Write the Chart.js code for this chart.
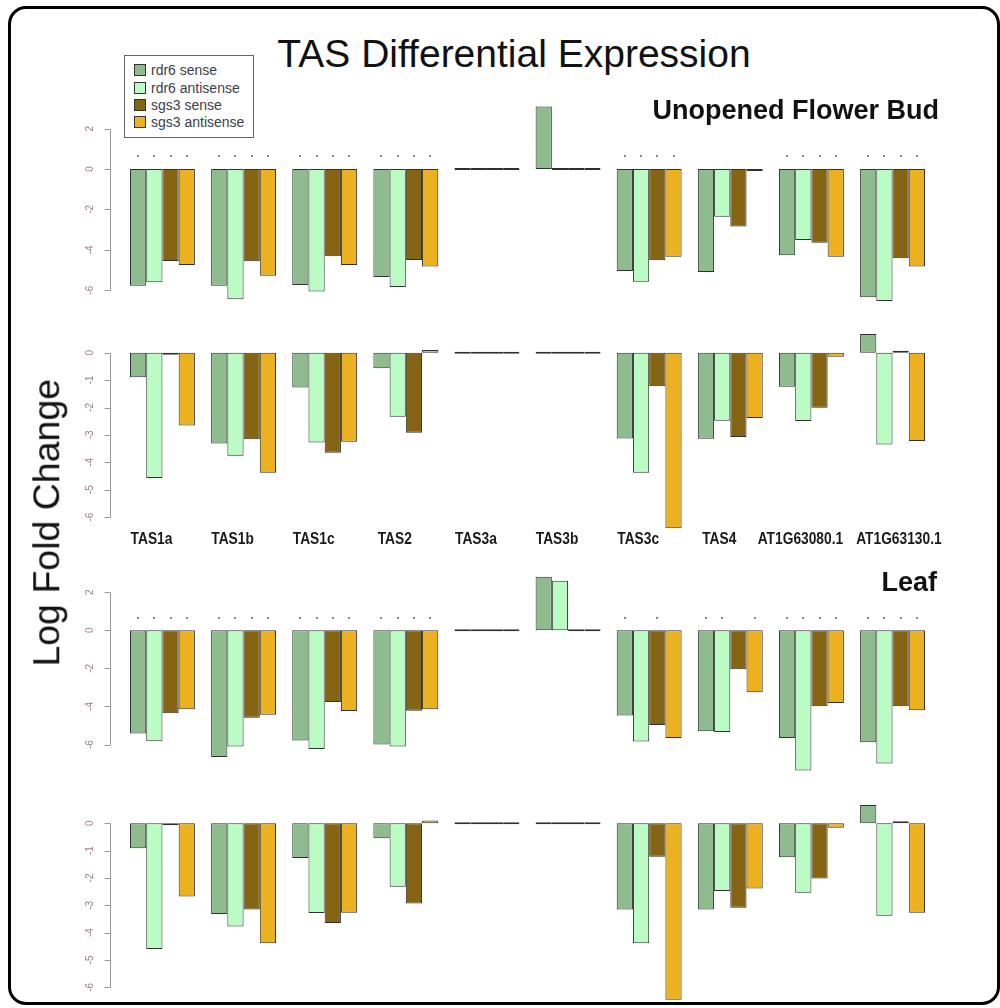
<!DOCTYPE html>
<html>
<head>
<meta charset="utf-8">
<script src="https://cdn.jsdelivr.net/npm/chart.js@4/dist/chart.umd.min.js"></script>
<style>
body { margin: 0; background: #fff; }
#page { position: relative; width: 1000px; height: 1008px; overflow: hidden; font-family: "Liberation Sans", Arial, sans-serif; }
#frame { position: absolute; left: 8px; top: 6px; width: 992px; height: 999px; border: 3px solid #000; border-radius: 18px; box-sizing: border-box; }
canvas { position: absolute; left: 0; }
.txt { position: absolute; line-height: 1; white-space: nowrap; color: #111; }
#title { font-size: 39px; left: 0; width: 1028px; text-align: center; top: 34px; }
#budLabel { font-size: 27px; font-weight: bold; right: 61px; top: 97px; }
#leafLabel { font-size: 27px; font-weight: bold; right: 63px; top: 569px; }
#ylab { font-size: 37.5px; width: 400px; text-align: center; left: -153px; top: 504px; transform: rotate(-90deg); }
#legend { position: absolute; left: 124px; top: 55px; width: 130px; height: 83px; border: 1px solid #666; box-sizing: border-box; background: #fff; }
.row { position: absolute; left: 0; height: 17px; line-height: 17px; font-size: 14px; color: #3d3d4d; }
.sw { position: absolute; left: 9px; top: 2px; width: 12px; height: 12px; border: 1px solid #333; box-sizing: border-box; }
.lt { position: absolute; left: 26px; top: 0; white-space: nowrap; }
</style>
</head>
<body>
<div id="page">
  <div id="frame"></div>
  <div id="title" class="txt">TAS Differential Expression</div>
  <div id="ylab" class="txt">Log Fold Change</div>
  <div id="legend"></div>
  <div id="budLabel" class="txt">Unopened Flower Bud</div>
  <div id="leafLabel" class="txt">Leaf</div>
</div>
<script>
// categories and series
const categories = ["TAS1a", "TAS1b", "TAS1c", "TAS2", "TAS3a", "TAS3b", "TAS3c", "TAS4", "AT1G63080.1", "AT1G63130.1"];
const seriesNames = ["rdr6 sense", "rdr6 antisense", "sgs3 sense", "sgs3 antisense"];
const seriesColors = ["#8fbc8f", "#bafcc4", "#856414", "#ebb120"];

// Unopened Flower Bud, upper panel
const budRdr6Sense = [-5.78, -5.78, -5.74, -5.35, 0, 3.09, -5.05, -5.10, -4.27, -6.35];
const budRdr6Anti = [-5.61, -6.45, -6.07, -5.84, 0, 0, -5.58, -2.36, -3.51, -6.53];
const budSgs3Sense = [-4.55, -4.57, -4.32, -4.50, 0, 0, -4.52, -2.85, -3.65, -4.42];
const budSgs3Anti = [-4.75, -5.28, -4.75, -4.83, 0, 0, -4.34, -0.08, -4.34, -4.83];
// Unopened Flower Bud, lower panel
const budLowRdr6Sense = [-0.90, -3.31, -1.27, -0.57, 0, 0, -3.13, -3.14, -1.24, 0.68];
const budLowRdr6Anti = [-4.57, -3.76, -3.28, -2.34, 0, 0, -4.38, -2.48, -2.49, -3.35];
const budLowSgs3Sense = [-0.07, -3.16, -3.65, -2.92, 0, 0, -1.22, -3.08, -2.01, 0.06];
const budLowSgs3Anti = [-2.66, -4.38, -3.25, 0.10, 0, 0, -6.41, -2.38, -0.15, -3.22];
// Leaf, upper panel
const leafRdr6Sense = [-5.42, -6.65, -5.79, -6.00, 0, 2.81, -4.48, -5.30, -5.65, -5.88];
const leafRdr6Anti = [-5.83, -6.10, -6.24, -6.10, 0, 2.60, -5.84, -5.34, -7.36, -7.00];
const leafSgs3Sense = [-4.36, -4.59, -3.77, -4.22, 0, 0, -4.97, -2.04, -3.99, -3.99];
const leafSgs3Anti = [-4.15, -4.43, -4.24, -4.15, 0, 0, -5.65, -3.26, -3.82, -4.20];
// Leaf, lower panel
const leafLowRdr6Sense = [-0.91, -3.32, -1.27, -0.55, 0, 0, -3.15, -3.15, -1.24, 0.67];
const leafLowRdr6Anti = [-4.60, -3.78, -3.28, -2.32, 0, 0, -4.39, -2.48, -2.54, -3.38];
const leafLowSgs3Sense = [-0.05, -3.15, -3.65, -2.93, 0, 0, -1.22, -3.09, -2.02, 0.04];
const leafLowSgs3Anti = [-2.68, -4.39, -3.27, 0.10, 0, 0, -6.46, -2.39, -0.16, -3.27];

// significance dots (one flag per bar in a group)
const budSig = ["1111", "1111", "1111", "1111", "0000", "0000", "1111", "0000", "1111", "1111"];
const leafSig = ["1111", "1111", "1111", "1111", "0000", "0000", "1010", "1101", "1111", "1111"];
const sigLevel = 0.65;

// y axis ticks
const ticksWide = [2, 0, -2, -4, -6];
const ticksLow = [0, -1, -2, -3, -4, -5, -6];

// legend
let legend = document.getElementById("legend");
seriesNames.forEach(function (name, i) {
    let row = document.createElement("div");
    row.className = "row";
    row.style.top = (6.2 + i * 17.3) + "px";
    row.innerHTML = '<div class="sw" style="background:' + seriesColors[i] + '"></div><div class="lt">' + name + '</div>';
    legend.appendChild(row);
});

// R style axis, dots and group names
const rAxis = {
    id: "rAxis",
    afterDatasetsDraw(chart, args, opts) {
        let ctx = chart.ctx;
        let y = chart.scales.y, x = chart.scales.x;
        let ax = Math.round(chart.chartArea.left - 12) + 0.5;
        let t = opts.ticks;
        ctx.save();
        ctx.strokeStyle = "#9a9a9a";
        ctx.lineWidth = 1;
        ctx.beginPath();
        ctx.moveTo(ax, Math.round(y.getPixelForValue(t[0])) + 0.5);
        ctx.lineTo(ax, Math.round(y.getPixelForValue(t[t.length - 1])) + 0.5);
        t.forEach(function (v) {
            let py = Math.round(y.getPixelForValue(v)) + 0.5;
            ctx.moveTo(ax, py);
            ctx.lineTo(ax - 6, py);
        });
        ctx.stroke();
        ctx.fillStyle = "#9a7f7f";
        ctx.font = '10px "Liberation Sans"';
        ctx.textAlign = "center";
        ctx.textBaseline = "middle";
        t.forEach(function (v) {
            ctx.save();
            ctx.translate(ax - 20.5, y.getPixelForValue(v));
            ctx.rotate(-Math.PI / 2);
            ctx.fillText(String(v), 0, 0);
            ctx.restore();
        });
        // dots over bars
        if (opts.sig) {
            ctx.fillStyle = "#8a8a8a";
            let py = y.getPixelForValue(sigLevel);
            opts.sig.forEach(function (flags, j) {
                for (let i = 0; i < 4; i++) {
                    if (flags[i] === "1") {
                        let bar = chart.getDatasetMeta(i).data[j];
                        ctx.fillRect(Math.round(bar.x) - 1, Math.round(py) - 1, 2, 2);
                    }
                }
            });
        }
        // group names
        if (opts.names) {
            ctx.fillStyle = "#1a1a1a";
            ctx.font = 'bold 17px "Liberation Sans"';
            ctx.textBaseline = "alphabetic";
            let baseY = y.getPixelForValue(-6) + 27;
            let prevRight = -1e9;
            categories.forEach(function (c, j) {
                let w = ctx.measureText(c).width * 0.81;
                let cx = x.getPixelForValue(j) - 11;
                if (cx - w / 2 < prevRight + 13) cx = prevRight + 13 + w / 2;
                prevRight = cx + w / 2;
                ctx.save();
                ctx.translate(cx, baseY);
                ctx.scale(0.81, 1);
                ctx.fillText(c, 0, 0);
                ctx.restore();
            });
        }
        ctx.restore();
    }
};

function makePanel(values, geo, extra) {
    let yTop = geo.zero - geo.max * geo.ppu;
    let yBot = geo.zero - geo.min * geo.ppu;
    let top = Math.floor(yTop) - 6;
    let bottom = Math.ceil(yBot) + geo.padBottom;
    let canvas = document.createElement("canvas");
    canvas.width = 1000;
    canvas.height = bottom - top;
    canvas.style.top = top + "px";
    canvas.style.width = "1000px";
    canvas.style.height = (bottom - top) + "px";
    document.getElementById("page").appendChild(canvas);
    new Chart(canvas, {
        type: "bar",
        data: {
            labels: categories,
            datasets: values.map(function (d, i) {
                return {
                    label: seriesNames[i],
                    data: d,
                    backgroundColor: seriesColors[i],
                    borderColor: "rgba(25,25,25,0.9)",
                    borderWidth: 1,
                    borderSkipped: false,
                    minBarLength: 2,
                    categoryPercentage: 0.8,
                    barPercentage: 1
                };
            })
        },
        options: {
            responsive: false,
            animation: false,
            events: [],
            layout: { padding: { left: 121.9, right: 66.9, top: yTop - top, bottom: bottom - yBot } },
            scales: {
                x: { type: "category", display: false, offset: true },
                y: { min: geo.min, max: geo.max, display: false }
            },
            plugins: {
                legend: { display: false },
                tooltip: { enabled: false },
                rAxis: extra
            }
        },
        plugins: [rAxis]
    });
}

makePanel([budRdr6Sense, budRdr6Anti, budSgs3Sense, budSgs3Anti],
    { zero: 169, ppu: 20.2, min: -7, max: 3.5, padBottom: 6 },
    { ticks: ticksWide, sig: budSig, names: false });
makePanel([budLowRdr6Sense, budLowRdr6Anti, budLowSgs3Sense, budLowSgs3Anti],
    { zero: 352.7, ppu: 27.4, min: -6.7, max: 1.0, padBottom: 22 },
    { ticks: ticksLow, sig: null, names: true });
makePanel([leafRdr6Sense, leafRdr6Anti, leafSgs3Sense, leafSgs3Anti],
    { zero: 630.3, ppu: 19.04, min: -7.7, max: 3.2, padBottom: 6 },
    { ticks: ticksWide, sig: leafSig, names: false });
makePanel([leafLowRdr6Sense, leafLowRdr6Anti, leafLowSgs3Sense, leafLowSgs3Anti],
    { zero: 823.3, ppu: 27.33, min: -6.7, max: 1.0, padBottom: 2 },
    { ticks: ticksLow, sig: null, names: false });

// keep text overlays above the canvases
["title", "ylab", "legend", "budLabel", "leafLabel"].forEach(function (id) {
    document.getElementById("page").appendChild(document.getElementById(id));
});
</script>
</body>
</html>
